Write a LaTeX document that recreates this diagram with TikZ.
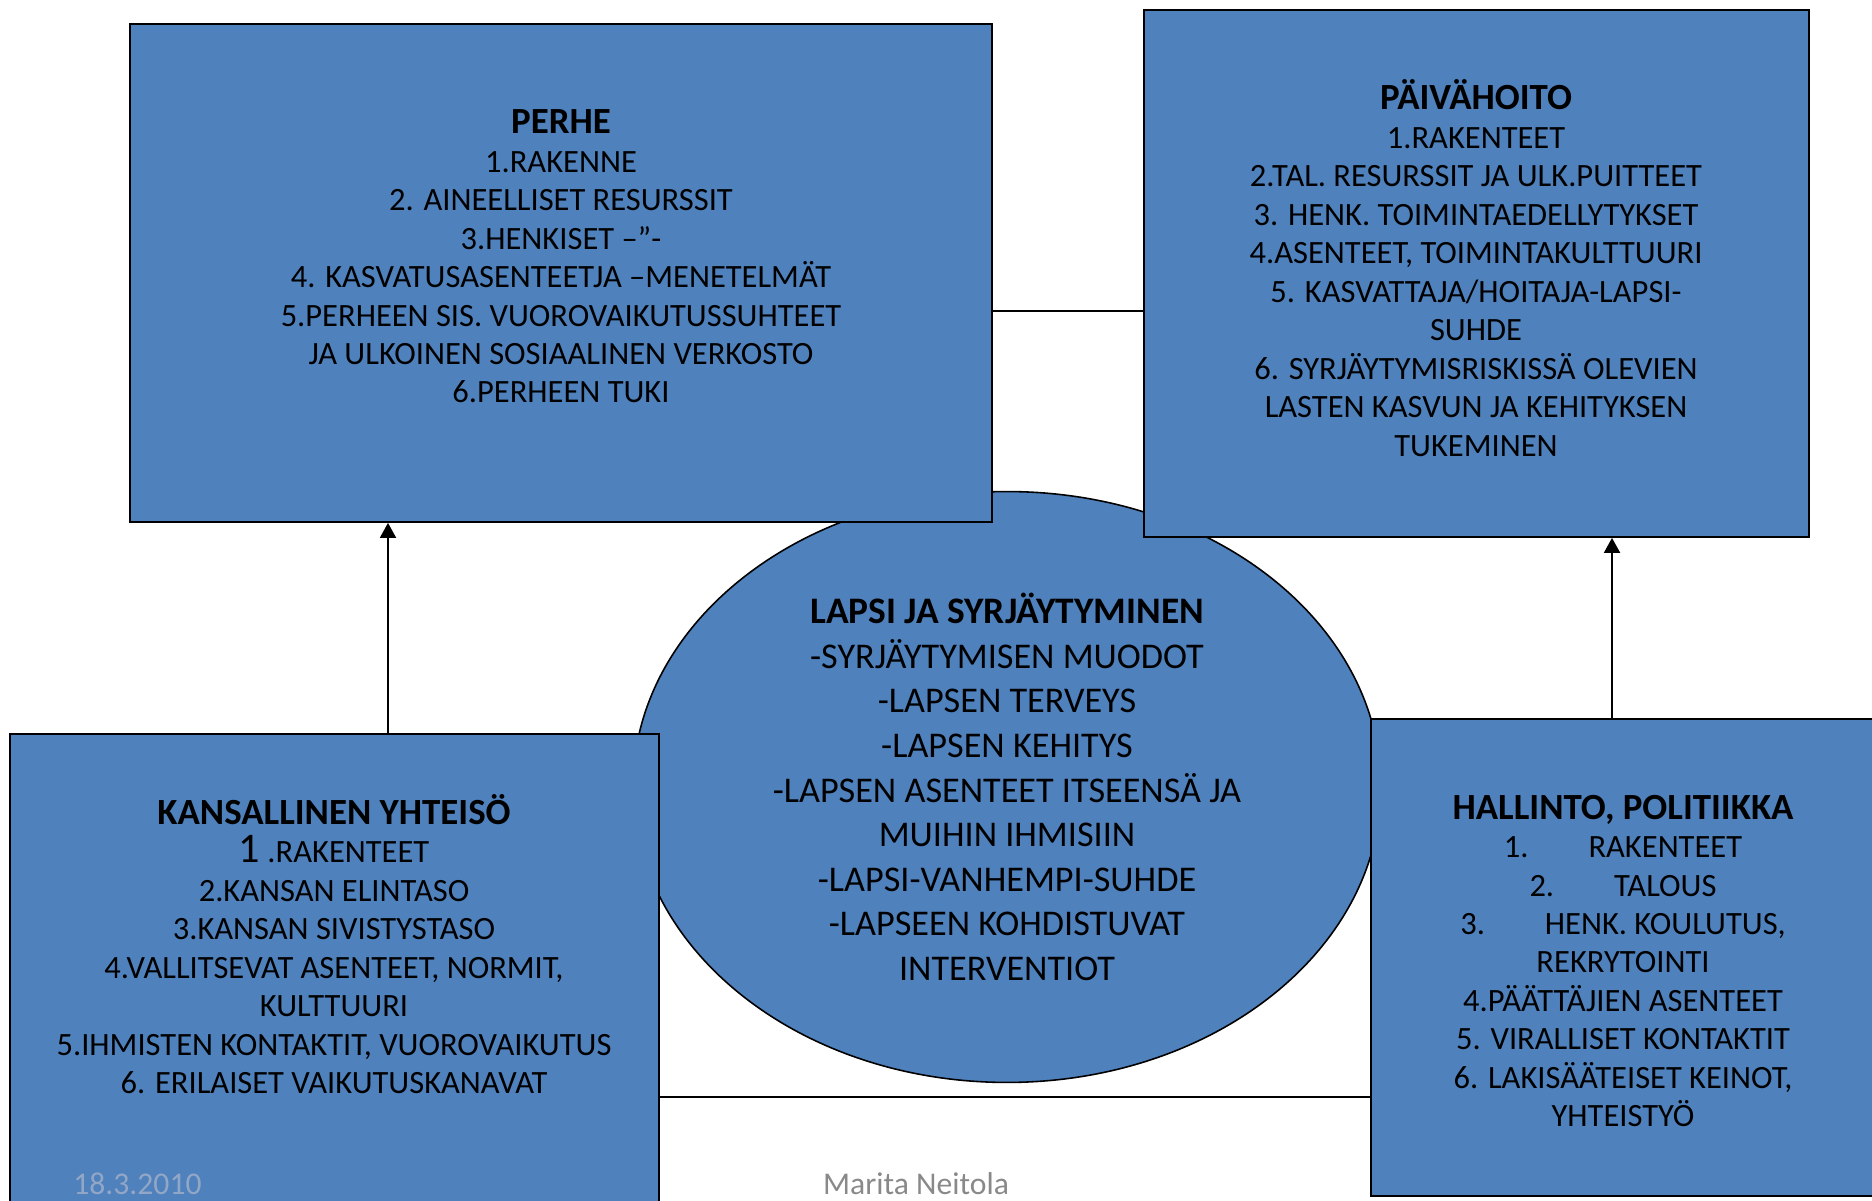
\documentclass[tikz,border=0pt]{standalone}
\usepackage{fontspec}
\setmainfont{Carlito}
\usetikzlibrary{
arrows.meta,
shapes.geometric,
}

\definecolor{laatikkosini}{RGB}{79,129,189}
\definecolor{alaharmaa}{RGB}{137,137,137}
\definecolor{pvmharmaa}{RGB}{146,166,198}

\newcommand{\otsikko}[2][21pt]{{\fontsize{#1}{21.9pt}\selectfont\bfseries #2}}

\begin{document}
\begin{tikzpicture}[x=0.02cm, y=0.02cm,
		laatikko/.style={rectangle, draw=black, line width=1.1pt, fill=laatikkosini, inner sep=0pt},
		teksti/.style={align=center, inner sep=0pt, font=\fontsize{18.5pt}{21.9pt}\selectfont},
		yhteys/.style={line width=1.1pt},
		nuoli/.style={yhteys, -{Triangle[length=0.3cm, width=0.32cm]}},
		alateksti/.style={anchor=base, inner sep=0pt, font=\fontsize{18pt}{21.9pt}\selectfont}]

			\useasboundingbox (0,0) rectangle (1872,1200);
			\clip (0,0) rectangle (1872,1200);

			% Define coordinates
			\coordinate (ylinja) at (0,889);
			\coordinate (alalinja) at (0,103);
			\coordinate (vasnuoli) at (388,0);
			\coordinate (oiknuoli) at (1612,0);

			% Ellipse under the boxes
			\node[ellipse, draw=black, line width=0.9pt, fill=laatikkosini, minimum width=14.96cm, minimum height=11.82cm, align=center, font=\fontsize{20.6pt}{25.4pt}\selectfont] (lapsi) at (1007,413) {\otsikko[21.3pt]{LAPSI JA SYRJÄYTYMINEN}\\-SYRJÄYTYMISEN MUODOT\\-LAPSEN TERVEYS\\-LAPSEN KEHITYS\\-LAPSEN ASENTEET ITSEENSÄ JA\\MUIHIN IHMISIIN\\-LAPSI-VANHEMPI-SUHDE\\-LAPSEEN KOHDISTUVAT\\INTERVENTIOT};

			% Boxes
			\node[laatikko, minimum width=17.24cm, minimum height=9.96cm] (perhe) at (561,927) {};
			\node[laatikko, minimum width=13.30cm, minimum height=10.54cm] (paivahoito) at (1476.5,926.5) {};
			\node[laatikko, minimum width=12.98cm, minimum height=11.12cm] (kansallinen) at (334.5,188) {};
			\node[laatikko, minimum width=11.78cm, minimum height=9.54cm] (hallinto) at (1665.5,242.5) {};

			% Connectors
			\draw[yhteys] (perhe.east |- ylinja) -- (paivahoito.west |- ylinja);
			\draw[yhteys] (kansallinen.east |- alalinja) -- (hallinto.west |- alalinja);
			\draw[nuoli] (kansallinen.north -| vasnuoli) -- (perhe.south -| vasnuoli);
			\draw[nuoli] (hallinto.north -| oiknuoli) -- (paivahoito.south -| oiknuoli);

			% Box texts
			\node[teksti] (perheteksti) at (561,943.5) {\otsikko{PERHE}\\1.RAKENNE\\2. AINEELLISET RESURSSIT\\3.HENKISET –”-\\4. KASVATUSASENTEETJA –MENETELMÄT\\5.PERHEEN SIS. VUOROVAIKUTUSSUHTEET\\JA ULKOINEN SOSIAALINEN VERKOSTO\\6.PERHEEN TUKI};
			\node[teksti] (paivahoitoteksti) at (1476,932) {\otsikko{PÄIVÄHOITO}\\1.RAKENTEET\\2.TAL. RESURSSIT JA ULK.PUITTEET\\3. HENK. TOIMINTAEDELLYTYKSET\\4.ASENTEET, TOIMINTAKULTTUURI\\5. KASVATTAJA/HOITAJA-LAPSI-\\SUHDE\\6. SYRJÄYTYMISRISKISSÄ OLEVIEN\\LASTEN KASVUN JA KEHITYKSEN\\TUKEMINEN};
			\node[teksti] (kansallinenteksti) at (334,256) {\otsikko{KANSALLINEN YHTEISÖ}\\{\fontsize{24pt}{21.9pt}\selectfont 1} .RAKENTEET\\2.KANSAN ELINTASO\\3.KANSAN SIVISTYSTASO\\4.VALLITSEVAT ASENTEET, NORMIT,\\KULTTUURI\\5.IHMISTEN KONTAKTIT, VUOROVAIKUTUS\\6. ERILAISET VAIKUTUSKANAVAT};
			\node[teksti] (hallintoteksti) at (1623,239) {\otsikko{HALLINTO, POLITIIKKA}\\1.\hspace{1.2cm}RAKENTEET\\2.\hspace{1.2cm}TALOUS\\3.\hspace{1.2cm}HENK. KOULUTUS,\\REKRYTOINTI\\4.PÄÄTTÄJIEN ASENTEET\\5. VIRALLISET KONTAKTIT\\6. LAKISÄÄTEISET KEINOT,\\YHTEISTYÖ};

			% Footer
			\node[alateksti, text=pvmharmaa] (pvm) at (137.5,6) {18.3.2010};
			\node[alateksti, text=alaharmaa] (tekija) at (916,6) {Marita Neitola};

		\end{tikzpicture}
\end{document}
